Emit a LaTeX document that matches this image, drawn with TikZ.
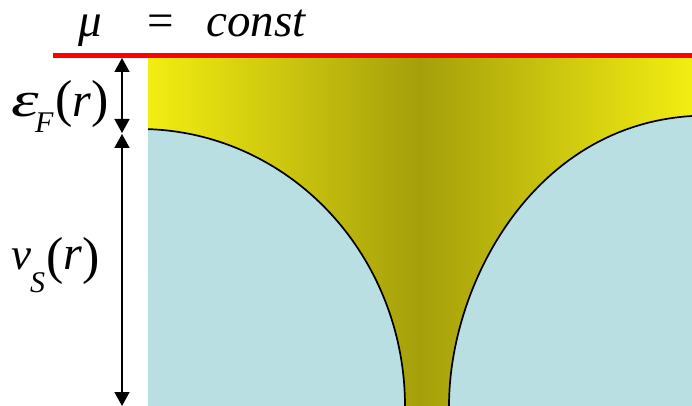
\documentclass[tikz,border=0pt]{standalone}
\usepackage{fontspec}
\setmainfont{Liberation Serif}
\usetikzlibrary{arrows.meta}
\definecolor{yel}{RGB}{242,237,18}
\definecolor{olv}{RGB}{165,159,11}
\definecolor{bluefill}{RGB}{186,223,227}
\definecolor{redline}{RGB}{255,0,0}
\tikzset{
  lbl/.style={inner sep=0pt, anchor=base west, font=\fontsize{47}{47}\selectfont},
  letter/.style={inner sep=0pt, anchor=base west, font=\fontsize{45}{45}\selectfont\itshape},
  sublbl/.style={inner sep=0pt, anchor=base west, font=\fontsize{30}{30}\selectfont\itshape},
  parlbl/.style={inner sep=0pt, anchor=base west, font=\fontsize{52}{52}\selectfont},
  dimarrow/.style={line width=1.5pt, {Triangle[length=14pt,width=15pt]}-{Triangle[length=14pt,width=15pt]}},
  curveline/.style={line width=1.7pt, black},
}
\newcommand{\rarg}{{\fontsize{48}{48}\selectfont\itshape r}}
\begin{document}
\begin{tikzpicture}[x=1pt,y=-1pt]
\useasboundingbox (0,0) rectangle (692,406);
% gradient region
\fill[left color=yel, right color=yel, middle color=olv] (148,57) rectangle (692,406);
% left blue region
\fill[bluefill] (148,406) -- plot[domain=88.27:0,samples=80] ({140+265*cos(\x)},{406-277*sin(\x)}) -- cycle;
\draw[curveline] plot[domain=88.27:0,samples=80] ({140+265*cos(\x)},{406-277*sin(\x)});
% right blue region
\coordinate (rb) at (449,406);
\coordinate (rt) at (692,116);
\fill[bluefill] (rb) .. controls (449,286) and (532,125.6) .. (rt) -- (692,406) -- cycle;
\draw[curveline] (rb) .. controls (449,286) and (532,125.6) .. (rt);
% red line
\coordinate (ra) at (53,55.5);
\coordinate (rz) at (692,55.5);
\draw[redline, line width=5pt] (ra) -- (rz);
% dimension arrows
\coordinate (a1) at (122,58);
\coordinate (a2) at (122,133);
\coordinate (a3) at (122,134);
\coordinate (a4) at (122,406);
\draw[dimarrow] (a1) -- (a2);
\draw[dimarrow] (a3) -- (a4);
% top label
\node[lbl] (mu) at (78,37) {\itshape μ};
\node[lbl] (eq) at (147,37) {=};
\node[lbl] (const) at (206,37) {\itshape const};
% epsilon_F(r)
\node[letter] (eps) at (11,117) {\scalebox{1.55}[1.1]{ε}};
\node[sublbl] (epsF) at (35,132) {F};
\node[parlbl] (epsR) at (55,117) {(\rarg)};
% v_S(r)
\node[letter] (vv) at (11,269) {v};
\node[sublbl] (vS) at (30,292) {S};
\node[parlbl] (vR) at (46,269) {\raisebox{-4pt}{(}\rarg\raisebox{-4pt}{)}};
\end{tikzpicture}
\end{document}
